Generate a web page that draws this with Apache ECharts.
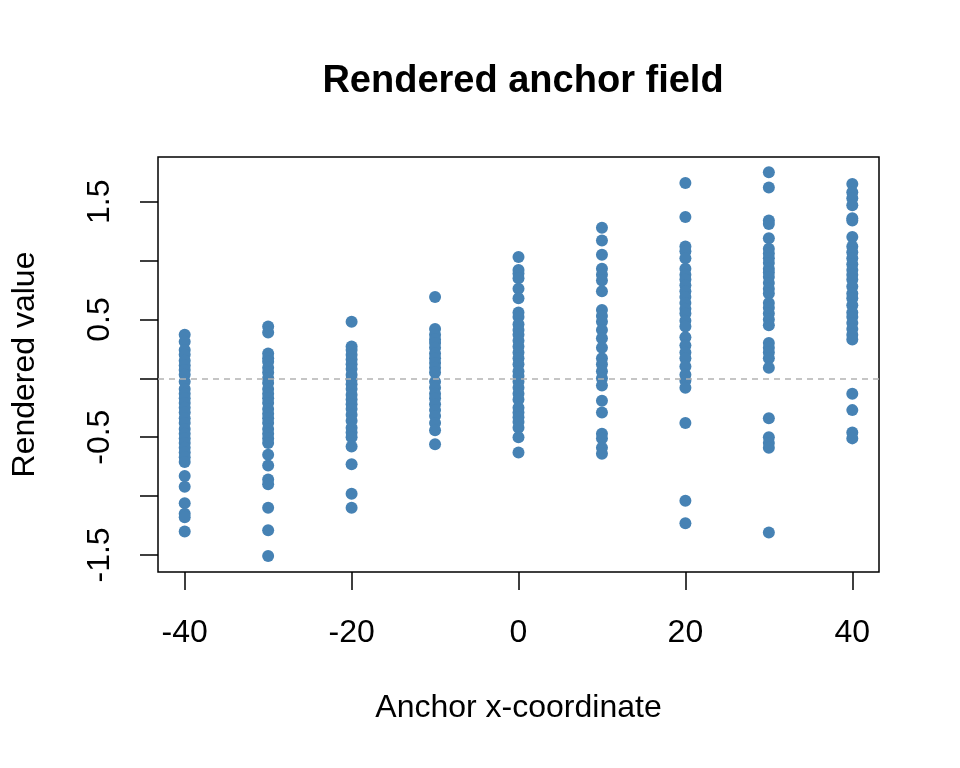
<!DOCTYPE html>
<html><head><meta charset="utf-8">
<script src="https://cdn.jsdelivr.net/npm/echarts@6/dist/echarts.min.js"></script>
<style>html,body{margin:0;padding:0;background:#fff}#c{width:960px;height:768px}</style>
</head><body><div id="c"></div>
<script>
const anchors = [-40, -30, -20, -10, 0, 10, 20, 30, 40];
const vM40 = [0.37,0.31,0.24,0.2,0.15,0.11,0.07,0.03,-0.03,-0.09,-0.13,-0.17,-0.21,-0.25,-0.29,-0.34,-0.38,-0.43,-0.47,-0.51,-0.55,-0.59,-0.63,-0.67,-0.71,-0.83,-0.92,-1.06,-1.15,-1.18,-1.3];
const vM30 = [0.44,0.39,0.21,0.17,0.14,0.09,0.05,0,-0.04,-0.09,-0.13,-0.17,-0.21,-0.26,-0.3,-0.34,-0.38,-0.43,-0.47,-0.51,-0.55,-0.65,-0.74,-0.86,-0.9,-1.1,-1.29,-1.51];
const vM20 = [0.48,0.27,0.24,0.2,0.16,0.12,0.08,0.03,-0.01,-0.05,-0.09,-0.14,-0.18,-0.22,-0.26,-0.31,-0.36,-0.42,-0.46,-0.5,-0.58,-0.73,-0.98,-1.1];
const vM10 = [0.69,0.42,0.37,0.33,0.3,0.26,0.21,0.17,0.13,0.09,0.05,-0.03,-0.08,-0.13,-0.17,-0.22,-0.27,-0.32,-0.38,-0.44,-0.56];
const v0 = [1.03,0.92,0.89,0.85,0.76,0.68,0.56,0.52,0.46,0.41,0.37,0.32,0.27,0.22,0.17,0.12,0.06,0.02,-0.03,-0.08,-0.13,-0.18,-0.25,-0.29,-0.33,-0.37,-0.42,-0.5,-0.63];
const vP10 = [1.28,1.17,1.05,0.93,0.88,0.83,0.74,0.58,0.53,0.48,0.41,0.34,0.26,0.17,0.12,0.06,0.0,-0.06,-0.19,-0.29,-0.47,-0.51,-0.59,-0.64];
const vP20 = [1.66,1.37,1.12,1.08,1.02,0.93,0.88,0.84,0.79,0.74,0.69,0.64,0.59,0.55,0.49,0.44,0.35,0.28,0.22,0.17,0.1,0.03,-0.02,-0.08,-0.38,-1.04,-1.23];
const vP30 = [1.75,1.62,1.34,1.31,1.19,1.1,1.06,1.02,0.98,0.93,0.9,0.86,0.81,0.76,0.72,0.64,0.6,0.55,0.5,0.45,0.3,0.26,0.22,0.17,0.09,-0.34,-0.5,-0.55,-0.59,-1.31];
const vP40 = [1.65,1.58,1.53,1.47,1.36,1.34,1.2,1.12,1.07,1.02,0.97,0.92,0.88,0.84,0.78,0.72,0.68,0.62,0.56,0.52,0.47,0.42,0.37,0.33,-0.13,-0.27,-0.46,-0.51];
const columns = [vM40, vM30, vM20, vM10, v0, vP10, vP20, vP30, vP40];
const xTicks = [-40, -20, 0, 20, 40];
const yTicks = [-1.5, -1, -0.5, 0, 0.5, 1, 1.5];
const yLabels = [-1.5, -0.5, 0.5, 1.5];

const pts = [];
columns.forEach((col, i) => col.forEach(v => pts.push([anchors[i], v])));

const font = 'Liberation Sans, Helvetica, Arial, sans-serif';
const chart = echarts.init(document.getElementById('c'));
chart.setOption({
  animation: false,
  backgroundColor: '#fff',
  title: {
    text: 'Rendered anchor field',
    left: 518, top: 58, textAlign: 'center',
    textStyle: {fontFamily: font, fontSize: 38, fontWeight: 'bold', color: '#000'}
  },
  grid: {left: 158, top: 157, width: 721, height: 415, show: true, borderColor: '#000', borderWidth: 1.5, backgroundColor: 'transparent'},
  xAxis: {
    type: 'value', min: -43.2, max: 43.2,
    name: 'Anchor x-coordinate', nameLocation: 'middle', nameGap: 120,
    nameTextStyle: {fontFamily: font, fontSize: 32, color: '#000'},
    axisLine: {show: false, onZero: false},
    splitLine: {show: false},
    axisTick: {show: true, inside: false, length: 18, customValues: xTicks, lineStyle: {color: '#000', width: 1.5}},
    axisLabel: {customValues: xTicks, margin: 45, fontFamily: font, fontSize: 32, color: '#000'}
  },
  yAxis: {
    type: 'value', min: -1.645, max: 1.88,
    name: 'Rendered value', nameLocation: 'middle', nameGap: 117, nameRotate: 90,
    nameTextStyle: {fontFamily: font, fontSize: 32, color: '#000'},
    axisLine: {show: false, onZero: false},
    splitLine: {show: false},
    axisTick: {show: true, inside: false, length: 18, customValues: yTicks, lineStyle: {color: '#000', width: 1.5}},
    axisLabel: {customValues: yLabels, rotate: 90, margin: 42, fontFamily: font, fontSize: 32, color: '#000',
      formatter: v => v.toFixed(1)}
  },
  series: [{
    type: 'scatter', data: pts, symbolSize: 12,
    itemStyle: {color: '#4682B4', opacity: 1},
    markLine: {
      silent: true, symbol: 'none', label: {show: false},
      lineStyle: {color: '#b3b3b3', type: [6, 5], width: 1.5},
      data: [{yAxis: 0}]
    }
  }]
});
</script></body></html>
